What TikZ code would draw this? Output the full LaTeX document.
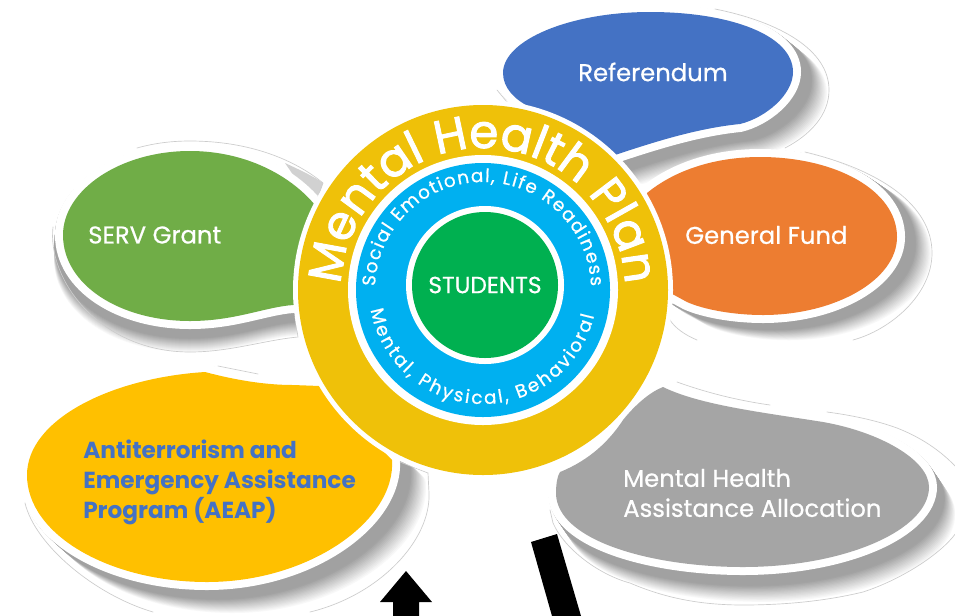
\documentclass[tikz,border=0pt]{standalone}
\usepackage{fontspec}
\setmainfont{Poppins}[FakeBold=0.6]
\newfontfamily\heavyfont{Poppins}[FakeBold=2]
\newfontfamily\boldfont{Poppins}
\usetikzlibrary{decorations.text}
\definecolor{cBlue}{HTML}{4472C4}
\definecolor{cOrange}{HTML}{ED7D31}
\definecolor{cGreen}{HTML}{70AD47}
\definecolor{cAmber}{HTML}{FFC000}
\definecolor{cGrey}{HTML}{A5A5A5}
\definecolor{cRing}{HTML}{EFC109}
\definecolor{cCyan}{HTML}{00B0F0}
\definecolor{cCore}{HTML}{00B050}
\definecolor{cLine}{HTML}{CCCCCC}
\tikzset{
  rim/.style={draw=white,line width=12pt,line join=round},
  reflect/.style={draw=cLine,line width=0.5pt,line cap=round},
  label/.style={text=white,anchor=west,inner sep=0pt,font=\fontsize{18.2pt}{22.5pt}\selectfont},
}
\def\pBlue{(503,73) .. controls (503,40) and (570,12) .. (650,12) .. controls (730,12) and (793,35) .. (793,72) .. controls (793,95) and (765,118) .. (740,124) .. controls (700,128) and (660,140) .. (615,155) -- (560,150) -- (530,107) .. controls (515,100) and (503,88) .. (503,73) -- cycle}
\def\pOrange{(647,193) .. controls (675,170) and (715,157) .. (760,157) .. controls (835,157) and (897,190) .. (897,237) .. controls (897,280) and (835,315) .. (763,315) .. controls (735,315) and (705,310) .. (687,302) -- (665,290) -- (640,240) -- cycle}
\def\pGreen{(63,235) .. controls (63,190) and (120,151) .. (190,151) .. controls (245,151) and (290,175) .. (315,205) -- (340,260) -- (300,304) -- (293,305) .. controls (265,307) and (235,321) .. (190,321) .. controls (120,321) and (63,285) .. (63,235) -- cycle}
\def\pAmber{(27,475) .. controls (27,420) and (110,378) .. (205,372) .. controls (235,380) and (265,385) .. (293,385) -- (320,386) -- (392,460) .. controls (396,520) and (310,582) .. (207,582) .. controls (110,582) and (27,535) .. (27,475) -- cycle}
\def\pGrey{(663,387) .. controls (700,405) and (760,412) .. (823,422) .. controls (880,432) and (929,460) .. (929,487) .. controls (929,530) and (845,567) .. (743,567) .. controls (650,567) and (556,540) .. (556,493) .. controls (556,482) and (558,475) .. (560,472) .. controls (590,460) and (610,440) .. (623,420) .. controls (635,405) and (650,392) .. (663,387) -- cycle}
% path, shadow dx, dy, fill
\newcommand{\petal}[4]{%
  \foreach \i in {24,...,1}{%
    \pgfmathsetmacro\stp{\i/24}%
    \pgfmathsetmacro\pp{37*min(1,(1-\stp)/0.6)}%
    \path[draw=black!\pp,fill=black!\pp,line width=12pt,line join=round,shift={(\stp*#2,\stp*#3)}] #1;%
  }%
  \path[rim] #1;%
  \path[fill=#4] #1;%
}
\begin{document}
\begin{tikzpicture}[x=0.75pt,y=-0.75pt]
\useasboundingbox (0,0) rectangle (955,615);
\clip (0,0) rectangle (955,615);
\fill[white] (0,0) rectangle (955,615);

% arrow and bar at the bottom
\fill[black] (406,571) -- (432,602) -- (419,602) -- (419,616) -- (393,616) -- (393,602) -- (380,602) -- cycle;
\fill[black] (531,542) -- (557,534) -- (581,616) -- (552,616) -- cycle;

% petals
\petal{\pBlue}{27}{22}{cBlue}
\petal{\pOrange}{27}{18}{cOrange}
\fill[black!18] (285,163) .. controls (300,170) and (313,176) .. (323,183) -- (318,197) -- (300,185) -- cycle;
\petal{\pGreen}{-1}{24}{cGreen}
\petal{\pAmber}{27}{24}{cAmber}
\petal{\pGrey}{19}{28}{cGrey}

% reflected outlines
\draw[reflect] (715,9) .. controls (780,22) and (829,50) .. (829,90) .. controls (829,115) and (810,135) .. (785,148);
\draw[reflect] (497,90) -- (507,102);
\draw[reflect] (805,152) .. controls (880,170) and (932,205) .. (932,253) .. controls (932,295) and (890,330) .. (853,340);
\draw[reflect] (670,305) -- (670,320) .. controls (675,328) and (685,335) .. (697,340);
\draw[reflect] (137,148) .. controls (155,143) and (172,141) .. (190,141) .. controls (250,141) and (295,160) .. (323,183) -- (318,197);
\draw[reflect] (53,227) .. controls (47,280) and (100,352) .. (190,352) .. controls (230,352) and (265,340) .. (298,337) -- (295,317);
\draw[reflect] (25,503) .. controls (35,545) and (95,595) .. (153,612);
\draw[reflect] (310,612) .. controls (380,595) and (431,540) .. (429,493) -- (428,473) -- (400,462);
\draw[reflect] (218,366) -- (258,374);
\draw[reflect] (550,510) -- (553,523) .. controls (565,550) and (600,575) .. (630,583) .. controls (665,598) and (700,605) .. (743,605) .. controls (790,605) and (830,600) .. (863,592) .. controls (900,580) and (940,555) .. (956,533);
\draw[reflect] (827,412) .. controls (850,415) and (875,420) .. (897,428) .. controls (920,437) and (940,450) .. (956,467);
\draw[reflect] (677,382) .. controls (705,392) and (735,400) .. (770,405);

% labels of the petals
\node[label,anchor=center] (referendum) at (653,72) {Referendum};
\node[label] (general) at (685,235) {General Fund};
\node[label] (serv) at (88,235) {SERV Grant};
\node[label,text=cBlue,align=left,font=\fontsize{17.4pt}{22.5pt}\selectfont\boldfont\bfseries] (aeap) at (83,482) {Antiterrorism and\\Emergency Assistance\\Program (AEAP)};
\node[label,align=left] (allocation) at (623,493) {Mental Health\\Assistance Allocation};

% centre rings
\begin{scope}[shift={(483,290)},y=0.75pt]
  \fill[white] (0,0) circle[radius=190];
  \fill[cRing] (0,0) circle[radius=185];
  \fill[white] (0,0) circle[radius=135];
  \fill[cCyan] (0,0) circle[radius=127];
  \fill[white] (2,5) circle[radius=79];
  \fill[cCore] (2,5) circle[radius=73];
  \path[decorate,decoration={text along path,text align=center,
      text={|\fontsize{35pt}{35pt}\heavyfont\selectfont\color{white}|Mental Health Plan}}]
    (178:142) arc[start angle=178,end angle=2,radius=142];
  \path[decorate,decoration={text along path,text align={fit to path},
      text={|\fontsize{13.8pt}{14pt}\selectfont\color{white}|Social Emotional, Life Readiness}}]
    (178:108) arc[start angle=178,end angle=2,radius=108];
  \path[decorate,decoration={text along path,text align={fit to path},
      text={|\fontsize{13.8pt}{14pt}\selectfont\color{white}|Mental, Physical, Behavioral}}]
    (190:114) arc[start angle=190,end angle=347,radius=114];
  \node[text=white,inner sep=0pt,font=\fontsize{17.5pt}{20pt}\selectfont] (students) at (2,5) {STUDENTS};
\end{scope}
\end{tikzpicture}
\end{document}
